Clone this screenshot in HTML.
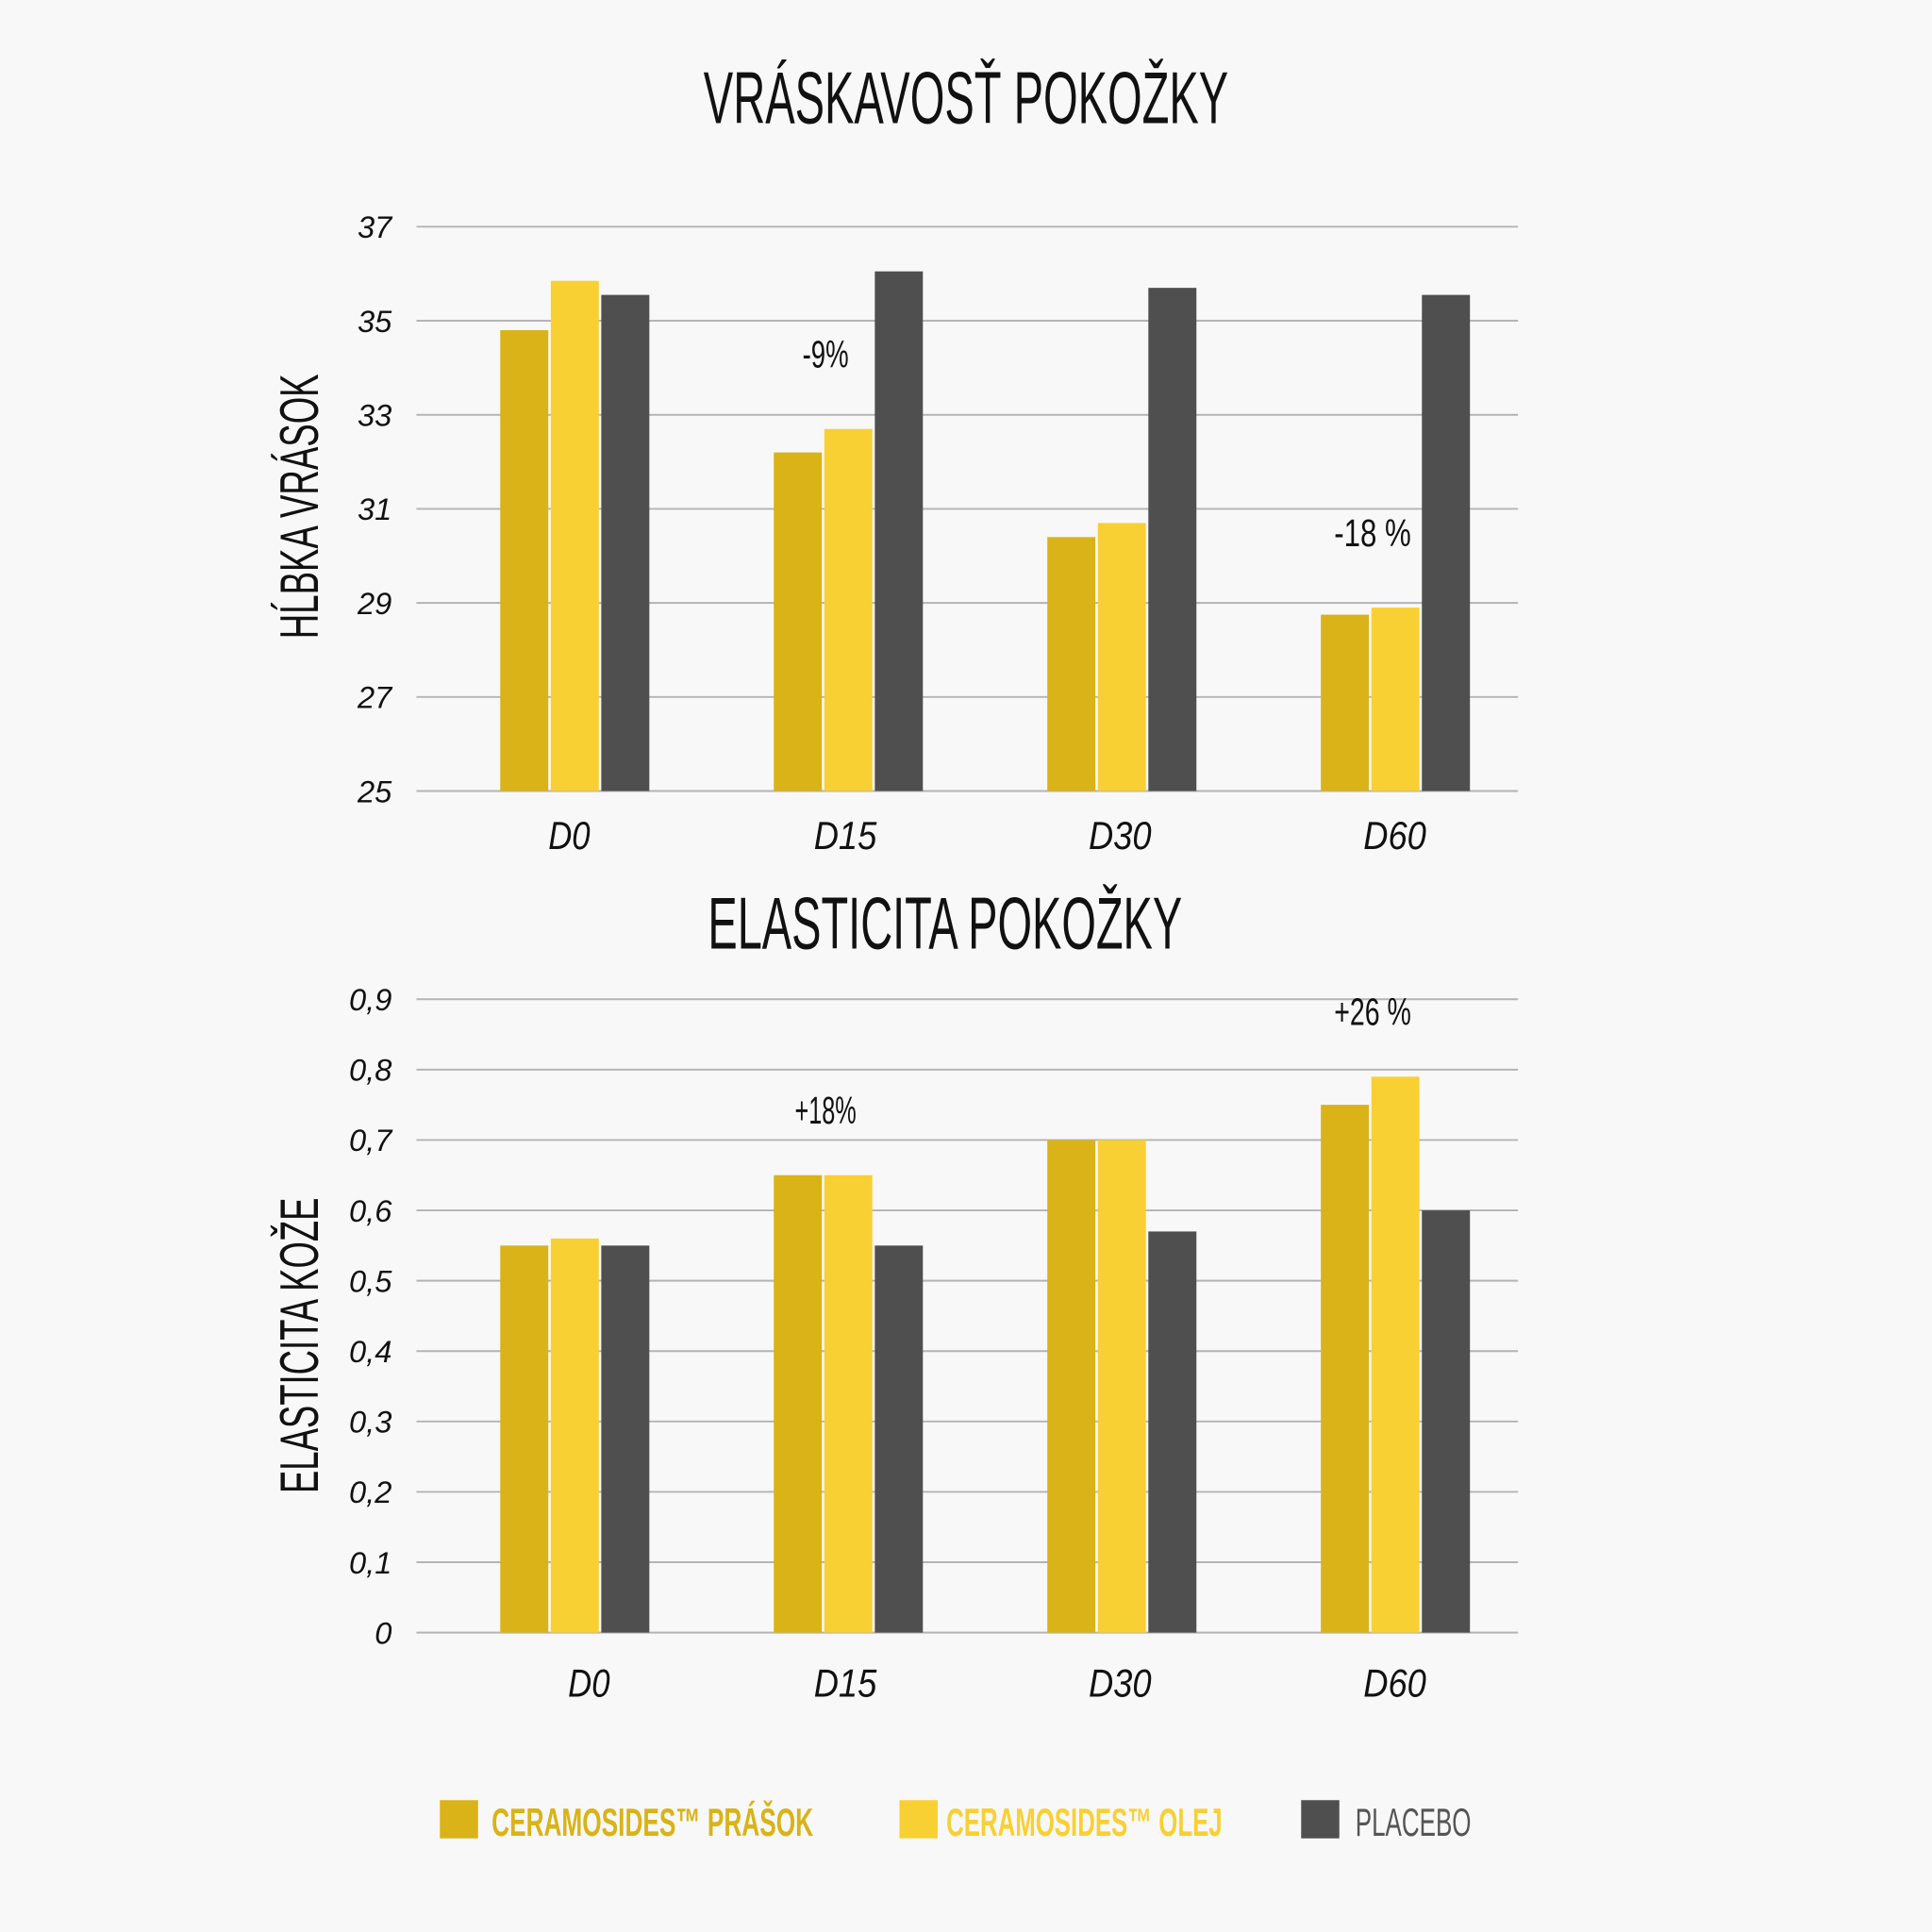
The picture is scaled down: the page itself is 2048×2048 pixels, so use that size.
<!DOCTYPE html>
<html><head><meta charset="utf-8"><style>
html,body{margin:0;padding:0;background:#f8f8f8;}
svg{display:block;}
text{font-family:"Liberation Sans",sans-serif;}
</style></head><body>
<svg id="c" width="2048" height="2048" viewBox="0 0 1568 1568" xmlns="http://www.w3.org/2000/svg">
<rect width="1568" height="1568" fill="#f8f8f8"/>
<text x="784" y="100" font-size="60" text-anchor="middle" textLength="426" lengthAdjust="spacingAndGlyphs" fill="#111">VRÁSKAVOSŤ POKOŽKY</text>
<text x="767" y="770" font-size="60" text-anchor="middle" textLength="385" lengthAdjust="spacingAndGlyphs" fill="#111">ELASTICITA POKOŽKY</text>
<text transform="translate(258,411) rotate(-90)" font-size="44" text-anchor="middle" textLength="215" lengthAdjust="spacingAndGlyphs" fill="#111">HĹBKA VRÁSOK</text>
<text transform="translate(258,1092) rotate(-90)" font-size="44" text-anchor="middle" textLength="240" lengthAdjust="spacingAndGlyphs" fill="#111">ELASTICITA KOŽE</text>
<g id="g1"></g><g id="g2"></g>
<g>
<rect x="357" y="1461" width="31" height="31" fill="#d9b317"/>
<text x="399" y="1490" font-size="32" font-weight="bold" fill="#d9b317" textLength="261" lengthAdjust="spacingAndGlyphs">CERAMOSIDES™ PRÁŠOK</text>
<rect x="730" y="1461" width="31" height="31" fill="#f8d034"/>
<text x="768" y="1490" font-size="32" font-weight="bold" fill="#f8d034" textLength="224" lengthAdjust="spacingAndGlyphs">CERAMOSIDES™ OLEJ</text>
<rect x="1056" y="1461" width="31" height="31" fill="#4f4f4f"/>
<text x="1100" y="1490" font-size="32" fill="#555" textLength="94" lengthAdjust="spacingAndGlyphs">PLACEBO</text>
</g>
</svg>
<script>
const categories=["D0","D15","D30","D60"];
const wrinklePrasok=[34.8,32.2,30.4,28.75];
const wrinkleOlej=[35.85,32.7,30.7,28.9];
const wrinklePlacebo=[35.55,36.05,35.7,35.55];
const wrinkleTicks=["25","27","29","31","33","35","37"];
const wrinkleTickValues=[25,27,29,31,33,35,37];
const wrinkleNotes=["","-9%","","-18 %"];
const elastPrasok=[0.55,0.65,0.70,0.75];
const elastOlej=[0.56,0.65,0.70,0.79];
const elastPlacebo=[0.55,0.55,0.57,0.60];
const elastTicks=["0","0,1","0,2","0,3","0,4","0,5","0,6","0,7","0,8","0,9"];
const elastTickValues=[0,0.1,0.2,0.3,0.4,0.5,0.6,0.7,0.8,0.9];
const elastNotes=["","+18%","","+26 %"];
const NS="http://www.w3.org/2000/svg";
const colors=["#d9b317","#f8d034","#4f4f4f"];
const serNames=["prasok","olej","placebo"];
function mk(tag,attrs,parent){const e=document.createElementNS(NS,tag);for(const k in attrs)e.setAttribute(k,attrs[k]);parent.appendChild(e);return e;}
function draw(gid,prefix,series,tickVals,tickLabels,vmin,vmax,y0,y1,labelY,labelXs,notes,noteY){
  const g=document.getElementById(gid);
  const y=v=>y0-(v-vmin)/(vmax-vmin)*(y0-y1);
  const cx=i=>467+i*222;
  tickVals.forEach((v,i)=>{
    const l=mk('line',{x1:338,x2:1232,y1:y(v),y2:y(v),stroke:'#b4b4b4','stroke-width':1.5},g);
    
    
    const t=mk('text',{x:318,y:y(v)+9,'font-size':25,'font-style':'italic','text-anchor':'end',fill:'#111'},g);
    t.textContent=tickLabels[i];
    
    
  });
  categories.forEach((c,i)=>{
    series.forEach((s,j)=>{
      const x=cx(i)-61+j*41;
      const r=mk('rect',{x:x,y:y(s[i]),width:39,height:y0-y(s[i]),fill:colors[j]},g);
      
      
    });
    const t=mk('text',{x:labelXs[i],y:labelY,'font-size':32,'font-style':'italic','text-anchor':'middle',fill:'#111',textLength:c.length*17,lengthAdjust:'spacingAndGlyphs'},g);
    t.textContent=c;
    
    
    if(notes[i]){
      const n=mk('text',{x:cx(i)-19,y:y(Math.max(series[0][i],series[1][i]))-noteY,'font-size':31,'text-anchor':'middle',fill:'#111',textLength:notes[i].length*12.5,lengthAdjust:'spacingAndGlyphs'},g);
      n.textContent=notes[i];
      
      
    }
  });
}
draw('g1','wrinkle',[wrinklePrasok,wrinkleOlej,wrinklePlacebo],wrinkleTickValues,wrinkleTicks,25,37,642,184,689,[462,686,909,1132],wrinkleNotes,50);
draw('g2','elasticity',[elastPrasok,elastOlej,elastPlacebo],elastTickValues,elastTicks,0,0.9,1325,811,1377,[478,686,909,1132],elastNotes,42);
</script>
</body></html>
